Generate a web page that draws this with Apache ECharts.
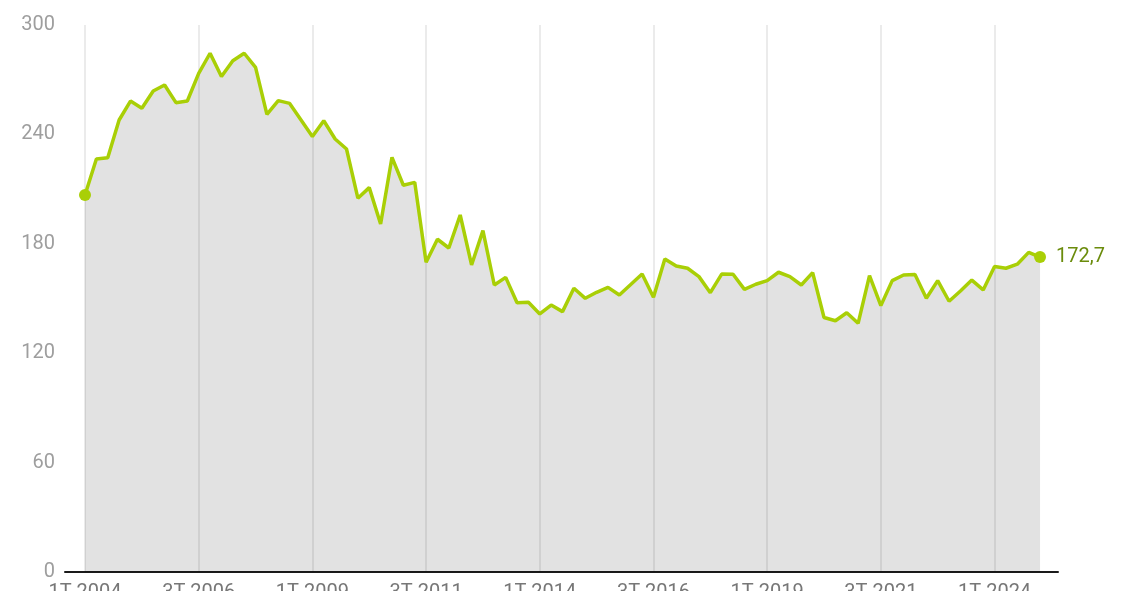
<!DOCTYPE html>
<html>
<head>
<meta charset="utf-8">
<script src="https://cdn.jsdelivr.net/npm/echarts@6/dist/echarts.min.js"></script>
<style>
html,body{margin:0;padding:0;background:#fff;overflow:hidden;}
#chart{width:1128px;height:591px;}
</style>
</head>
<body>
<div id="chart"></div>
<script>
// Quarterly series, 1T 2004 .. 1T 2025
const startYear = 2004;
const values = [
  206.8, 226.5, 227.2, 247.9, 258.3, 254.3, 263.8, 267.1, 257.4, 258.3,
  273.5, 284.5, 271.7, 280.4, 284.5, 276.8, 251.0, 258.5, 257.0, 247.9,
  238.8, 247.5, 237.5, 232.0, 205.0, 210.8, 190.9, 227.4, 212.1, 213.7,
  169.9, 182.5, 177.7, 195.8, 168.4, 187.2, 157.4, 161.6, 147.7, 147.9,
  141.5, 146.4, 142.8, 155.6, 150.1, 153.4, 156.1, 151.9, 157.7, 163.4,
  150.7, 171.7, 167.8, 166.6, 162.0, 153.2, 163.4, 163.3, 155.0, 157.8,
  159.8, 164.4, 162.0, 157.4, 164.2, 139.6, 137.8, 142.2, 136.4, 162.5,
  146.1, 159.8, 162.9, 163.1, 150.1, 159.8, 148.5, 154.1, 160.1, 154.7,
  167.5, 166.6, 168.8, 175.3, 172.7
];
const categories = values.map((v, i) => ((i % 4) + 1) + 'T ' + (startYear + Math.floor(i / 4)));
const labelIndices = [0, 10, 20, 30, 40, 50, 60, 70, 80];
const yTicks = [0, 60, 120, 180, 240, 300];

const last = values.length - 1;
const seriesData = values.map((v, i) => {
  const item = { value: [i, v] };
  if (i === last) {
    item.label = {
      show: true,
      position: 'right',
      distance: 10,
      color: '#6b8c0c',
      fontSize: 20,
      fontFamily: 'Roboto',
      formatter: p => String(p.value[1]).replace('.', ',')
    };
  }
  return item;
});

const chart = echarts.init(document.getElementById('chart'), null, { renderer: 'canvas' });
chart.setOption({
  animation: false,
  grid: { left: 65, right: 70, top: 25, bottom: 19, containLabel: false, outerBoundsMode: 'none' },
  xAxis: {
    type: 'value',
    min: -1.76,
    max: 85.58,
    axisLine: { show: true, lineStyle: { color: '#1a1a1a', width: 2 } },
    axisTick: { show: false, customValues: labelIndices },
    axisLabel: {
      customValues: labelIndices,
      formatter: v => categories[v] || '',
      color: '#777',
      fontSize: 20,
      fontFamily: 'Roboto',
      margin: 11
    },
    splitLine: { show: true, lineStyle: { color: '#e4e4e4', width: 1.5 } }
  },
  yAxis: {
    type: 'value',
    min: yTicks[0],
    max: yTicks[yTicks.length - 1],
    interval: 60,
    axisLine: { show: false },
    axisTick: { show: false },
    splitLine: { show: false },
    axisLabel: { color: '#9e9e9e', fontSize: 20, fontFamily: 'Roboto', margin: 10 }
  },
  series: [{
    type: 'line',
    data: seriesData,
    symbol: 'circle',
    symbolSize: (val, params) => (params.dataIndex === 0 || params.dataIndex === last) ? 12 : 0,
    showAllSymbol: true,
    lineStyle: { color: '#a9cf06', width: 3.5 },
    itemStyle: { color: '#a9cf06' },
    areaStyle: { color: 'rgba(0,0,0,0.115)', opacity: 1 },
    z: 2
  }]
});
</script>
</body>
</html>
